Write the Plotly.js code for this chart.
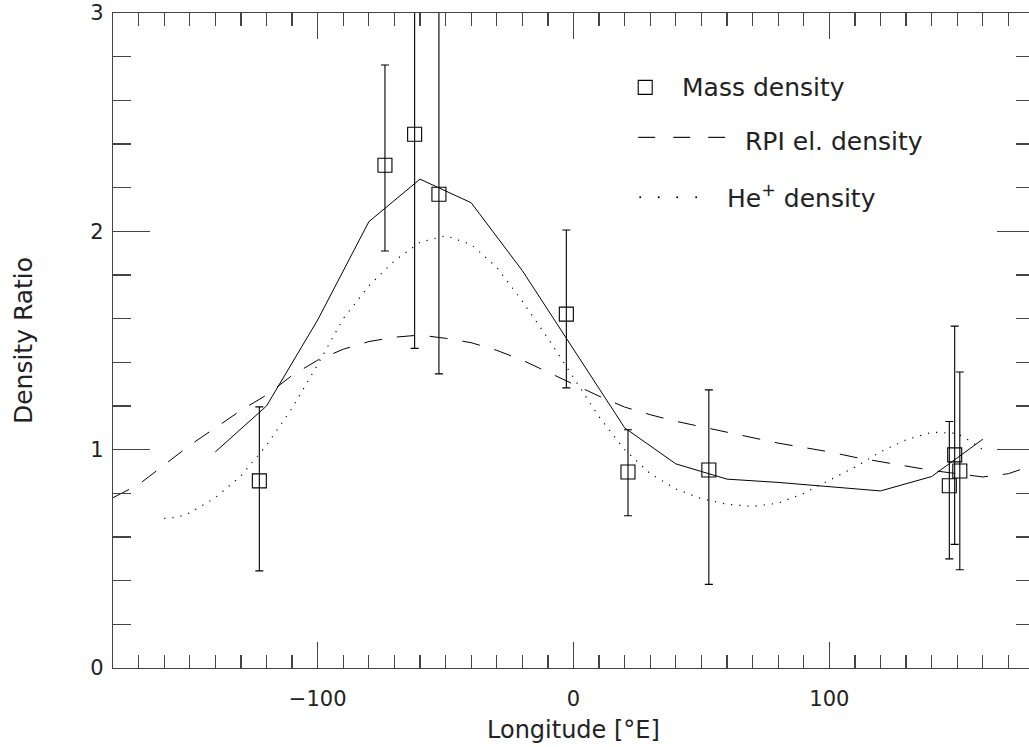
<!DOCTYPE html>
<html>
<head>
<meta charset="utf-8">
<script src="https://cdn.plot.ly/plotly-3.0.1.min.js"></script>
<style>
html,body{margin:0;padding:0;overflow:hidden;background:#fff;}
#chart{width:1040px;height:747px;}
</style>
</head>
<body>
<div id="chart"></div>
<script>
// Mass density measurements (longitude, value, error bar top/bottom)
var massLon = [-122.8, -73.7, -62.1, -52.6, -2.8, 21.3, 52.9, 146.9, 149.0, 151.0];
var massVal = [0.857, 2.303, 2.445, 2.170, 1.621, 0.898, 0.907, 0.835, 0.976, 0.902];
var massHi  = [1.196, 2.762, 3.450, 3.200, 2.006, 1.091, 1.274, 1.129, 1.566, 1.356];
var massLo  = [0.445, 1.910, 1.464, 1.347, 1.283, 0.697, 0.383, 0.500, 0.566, 0.450];

// Solid line
var solidLon = [-140, -120, -100, -80, -60, -40, -20, 0, 20, 40, 60, 80, 100, 120, 140, 160];
var solidVal = [0.99, 1.20, 1.594, 2.044, 2.239, 2.131, 1.82, 1.46, 1.10, 0.935, 0.865, 0.85, 0.83, 0.811, 0.877, 1.048];

// RPI electron density (dashed)
var rpiLon = [-180,-170,-160,-150,-140,-130,-120,-110,-100,-90,-80,-70,-60,-50,-40,-30,-20,-10,0,10,20,30,40,50,60,70,80,90,100,110,120,130,140,150,160,170,180];
var rpiVal = [0.78,0.84,0.93,1.02,1.10,1.18,1.25,1.34,1.41,1.46,1.495,1.515,1.525,1.51,1.49,1.455,1.41,1.355,1.30,1.245,1.195,1.16,1.13,1.105,1.08,1.055,1.03,1.01,0.99,0.965,0.945,0.925,0.905,0.89,0.875,0.89,0.93];

// He+ density (dotted)
var heLon = [-160,-155,-150,-140,-130,-120,-110,-100,-90,-80,-70,-60,-50,-40,-30,-20,-10,0,10,20,30,40,50,60,70,80,90,100,110,120,130,140,150,155,160];
var heVal = [0.685,0.69,0.71,0.78,0.88,1.02,1.19,1.39,1.60,1.75,1.865,1.95,1.98,1.94,1.835,1.68,1.51,1.33,1.15,1.00,0.89,0.82,0.775,0.75,0.74,0.755,0.80,0.86,0.92,0.99,1.045,1.08,1.075,1.04,1.0];

// Legend labels
var legendLabels = ["Mass density", "RPI el. density", "He<sup>+</sup> density"];
var xTitle = "Longitude [°E]";
var yTitle = "Density Ratio";

var errPlus = massVal.map(function(v,i){return massHi[i]-v;});
var errMinus = massVal.map(function(v,i){return v-massLo[i];});

var FONT = "DejaVu Sans, Liberation Sans, sans-serif";
var TXT = "#222";
var AX = "#444";

var traces = [
  {x: rpiLon, y: rpiVal, mode: "lines", line: {color: "#000", width: 1, dash: "18px,15px"}, hoverinfo: "skip"},
  {x: heLon, y: heVal, mode: "lines", line: {color: "#000", width: 1.2, dash: "1.2px,7px"}, hoverinfo: "skip"},
  {x: solidLon, y: solidVal, mode: "lines", line: {color: "#000", width: 1}, hoverinfo: "skip"},
  {x: massLon, y: massVal, mode: "markers",
   marker: {symbol: "square-open", size: 14, color: "#000", line: {width: 1.1, color: "#000"}},
   error_y: {type: "data", symmetric: false, array: errPlus, arrayminus: errMinus, color: "#000", thickness: 1.1, width: 4},
   cliponaxis: true, hoverinfo: "skip"}
];

// plot area in pixels
var L = 112.5, R = 1034, T = 12.5, B = 668.3;
function px(x){return (x-L)/(R-L);}
function py(y){return (B-y)/(B-T);}

var shapes = [
  {type: "rect", xref: "paper", yref: "paper", x0: px(638), x1: px(652), y0: py(94), y1: py(80), line: {color: "#000", width: 1.1}},
  {type: "line", xref: "paper", yref: "paper", x0: px(638), x1: px(655), y0: py(137), y1: py(137), line: {color: "#000", width: 1.1}},
  {type: "line", xref: "paper", yref: "paper", x0: px(673), x1: px(690), y0: py(137), y1: py(137), line: {color: "#000", width: 1.1}},
  {type: "line", xref: "paper", yref: "paper", x0: px(708), x1: px(725), y0: py(137), y1: py(137), line: {color: "#000", width: 1.1}}
];
[640, 658.5, 677, 696].forEach(function(x){
  shapes.push({type: "circle", xref: "paper", yref: "paper", x0: px(x-1), x1: px(x+1), y0: py(198), y1: py(196), fillcolor: "#000", line: {width: 0}});
});

var annotations = [
  {xref: "paper", yref: "paper", x: px(680), y: py(87), xanchor: "left", yanchor: "middle", showarrow: false, text: legendLabels[0], font: {family: FONT, size: 25, color: TXT}},
  {xref: "paper", yref: "paper", x: px(743), y: py(141), xanchor: "left", yanchor: "middle", showarrow: false, text: legendLabels[1], font: {family: FONT, size: 25, color: TXT}},
  {xref: "paper", yref: "paper", x: px(725), y: py(196), xanchor: "left", yanchor: "middle", showarrow: false, text: legendLabels[2], font: {family: FONT, size: 25, color: TXT}},
  {xref: "paper", yref: "paper", x: px(573.3), y: py(730), xanchor: "center", yanchor: "middle", showarrow: false, text: xTitle, font: {family: FONT, size: 24, color: TXT}}
];

var layout = {
  width: 1040, height: 747,
  margin: {l: L, r: 1040-R, t: T, b: 747-B},
  paper_bgcolor: "#fff", plot_bgcolor: "#fff",
  showlegend: false,
  font: {family: FONT, color: TXT},
  xaxis: {
    range: [-180, 180], tick0: 0, dtick: 100,
    ticks: "inside", ticklen: 26, tickwidth: 1.2, tickcolor: AX,
    minor: {dtick: 10, tick0: 0, ticks: "inside", ticklen: 13, tickwidth: 1.2, tickcolor: AX},
    showline: true, linecolor: AX, linewidth: 1.2, mirror: "ticks",
    showgrid: false, zeroline: false,
    tickfont: {family: FONT, size: 21, color: TXT},
    ticklabelstandoff: 12
  },
  yaxis: {
    range: [0, 3], tick0: 0, dtick: 1,
    ticks: "inside", ticklen: 37, tickwidth: 1.2, tickcolor: AX,
    minor: {dtick: 0.2, tick0: 0, ticks: "inside", ticklen: 18, tickwidth: 1.2, tickcolor: AX},
    showline: true, linecolor: AX, linewidth: 1.2, mirror: "ticks",
    showgrid: false, zeroline: false,
    tickfont: {family: FONT, size: 21, color: TXT},
    ticklabelstandoff: 4,
    title: {text: yTitle, font: {family: FONT, size: 25, color: TXT}, standoff: 50}
  },
  shapes: shapes,
  annotations: annotations
};

Plotly.newPlot("chart", traces, layout, {staticPlot: true, displayModeBar: false});
</script>
</body>
</html>
